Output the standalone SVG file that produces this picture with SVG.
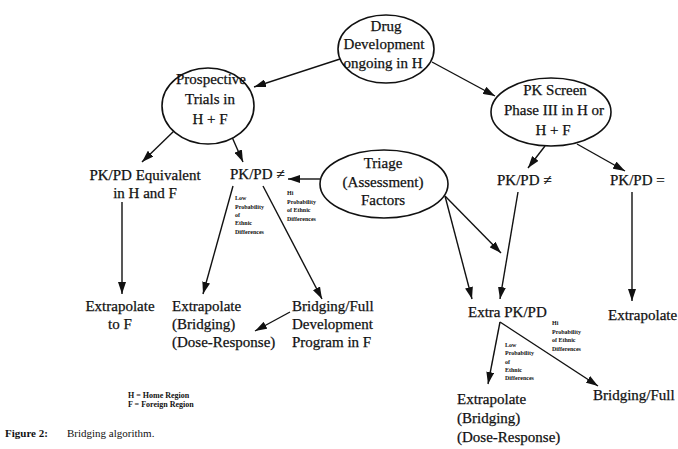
<svg xmlns="http://www.w3.org/2000/svg" width="678" height="449" viewBox="0 0 678 449">
<style>
text{font-family:"Liberation Serif","Times New Roman",serif;fill:#111}
.t{font-size:15px;stroke:#111;stroke-width:0.25}
.m{font-size:15px;text-anchor:middle;stroke:#111;stroke-width:0.25}
.s{font-size:6px;font-weight:bold}
.l{font-size:8px;font-weight:bold}
.f{font-size:11px}
ellipse{fill:#fff;stroke:#111;stroke-width:1.6}
.c line{stroke:#111;stroke-width:1.4}
</style>
<defs>
<marker id="a" viewBox="0 0 12 8" refX="12" refY="4" markerWidth="12" markerHeight="8" markerUnits="userSpaceOnUse" orient="auto">
<path d="M0,0 L12,4 L0,8 Z" fill="#111"/>
</marker>
</defs>
<rect width="678" height="449" fill="#fff"/>
<g class="c">
<line x1="340" y1="59" x2="254" y2="87" marker-end="url(#a)"/>
<line x1="432" y1="62" x2="495" y2="96" marker-end="url(#a)"/>
<line x1="174" y1="131" x2="142" y2="162" marker-end="url(#a)"/>
<line x1="232" y1="137" x2="243" y2="162" marker-end="url(#a)"/>
<line x1="320" y1="179" x2="288" y2="179" marker-end="url(#a)"/>
<line x1="122" y1="202" x2="122" y2="294" marker-end="url(#a)"/>
<line x1="233" y1="186" x2="203" y2="294" marker-end="url(#a)"/>
<line x1="263" y1="186" x2="322" y2="299" marker-end="url(#a)"/>
<line x1="290" y1="312" x2="255" y2="331" marker-end="url(#a)"/>
<line x1="545" y1="146" x2="528" y2="168" marker-end="url(#a)"/>
<line x1="577" y1="144" x2="625" y2="171" marker-end="url(#a)"/>
<line x1="445" y1="196" x2="501" y2="253" marker-end="url(#a)"/>
<line x1="445" y1="196" x2="472" y2="299" marker-end="url(#a)"/>
<line x1="518" y1="192" x2="500" y2="299" marker-end="url(#a)"/>
<line x1="632" y1="192" x2="632" y2="301" marker-end="url(#a)"/>
<line x1="500" y1="322" x2="488" y2="384" marker-end="url(#a)"/>
<line x1="500" y1="322" x2="598" y2="386" marker-end="url(#a)"/>
</g>
<g id="drug">
<ellipse cx="386" cy="49" rx="48" ry="34"/>
<text class="m" x="386" y="31">Drug</text>
<text class="m" x="384" y="49">Development</text>
<text class="m" x="383" y="68">ongoing in H</text>
</g>
<g id="prospective">
<ellipse cx="208" cy="106" rx="46" ry="38"/>
<text class="m" x="211" y="84">Prospective</text>
<text class="m" x="210" y="104">Trials in</text>
<text class="m" x="210" y="124">H + F</text>
</g>
<g id="pkscreen">
<ellipse cx="551" cy="112" rx="60" ry="34"/>
<text class="m" x="555" y="95">PK Screen</text>
<text class="m" x="554" y="115">Phase III in H or</text>
<text class="m" x="553" y="135">H + F</text>
</g>
<g id="triage">
<ellipse cx="384" cy="184" rx="64" ry="34"/>
<text class="m" x="383" y="168">Triage</text>
<text class="m" x="383" y="187">(Assessment)</text>
<text class="m" x="383" y="205">Factors</text>
</g>
<g id="pkpd-equiv">
<text class="m" x="145" y="180">PK/PD Equivalent</text>
<text class="m" x="145" y="198">in H and F</text>
</g>
<g id="pkpd-neq-left">
<text class="t" x="230" y="179">PK/PD ≠</text>
</g>
<g id="extrap-to-f">
<text class="m" x="120" y="311">Extrapolate</text>
<text class="m" x="120" y="329">to F</text>
</g>
<g id="extrap-bridging-left">
<text class="t" x="172" y="311">Extrapolate</text>
<text class="t" x="172" y="329">(Bridging)</text>
<text class="t" x="172" y="347">(Dose-Response)</text>
</g>
<g id="bridging-full-program">
<text class="t" x="292" y="311">Bridging/Full</text>
<text class="t" x="292" y="329">Development</text>
<text class="t" x="292" y="347">Program in F</text>
</g>
<g id="pkpd-neq-right">
<text class="t" x="497" y="185">PK/PD ≠</text>
</g>
<g id="pkpd-eq">
<text class="t" x="610" y="185">PK/PD =</text>
</g>
<g id="extra-pkpd">
<text class="t" x="468" y="317">Extra PK/PD</text>
</g>
<g id="extrapolate-right">
<text class="t" x="608" y="320">Extrapolate</text>
</g>
<g id="extrap-bridging-right">
<text class="t" x="457" y="404">Extrapolate</text>
<text class="t" x="457" y="423">(Bridging)</text>
<text class="t" x="457" y="442">(Dose-Response)</text>
</g>
<g id="bridging-full">
<text class="t" x="593" y="400">Bridging/Full</text>
</g>
<g id="labels">
<text class="s" x="235" y="200">Low</text>
<text class="s" x="235" y="209">Probability</text>
<text class="s" x="235" y="217">of</text>
<text class="s" x="235" y="225">Ethnic</text>
<text class="s" x="235" y="234">Differences</text>
<text class="s" x="287" y="195">Hi</text>
<text class="s" x="287" y="204">Probability</text>
<text class="s" x="287" y="212">of Ethnic</text>
<text class="s" x="287" y="221">Differences</text>
<text class="s" x="552" y="325">Hi</text>
<text class="s" x="552" y="334">Probability</text>
<text class="s" x="552" y="342">of Ethnic</text>
<text class="s" x="552" y="351">Differences</text>
<text class="s" x="505" y="347">Low</text>
<text class="s" x="505" y="355">Probability</text>
<text class="s" x="505" y="364">of</text>
<text class="s" x="505" y="372">Ethnic</text>
<text class="s" x="505" y="380">Differences</text>
<text class="l" x="128" y="398">H = Home Region</text>
<text class="l" x="128" y="407">F = Foreign Region</text>
</g>
<g id="caption">
<text class="f" x="5" y="437"><tspan font-weight="bold">Figure 2:</tspan><tspan x="67">Bridging algorithm.</tspan></text>
</g>
</svg>
